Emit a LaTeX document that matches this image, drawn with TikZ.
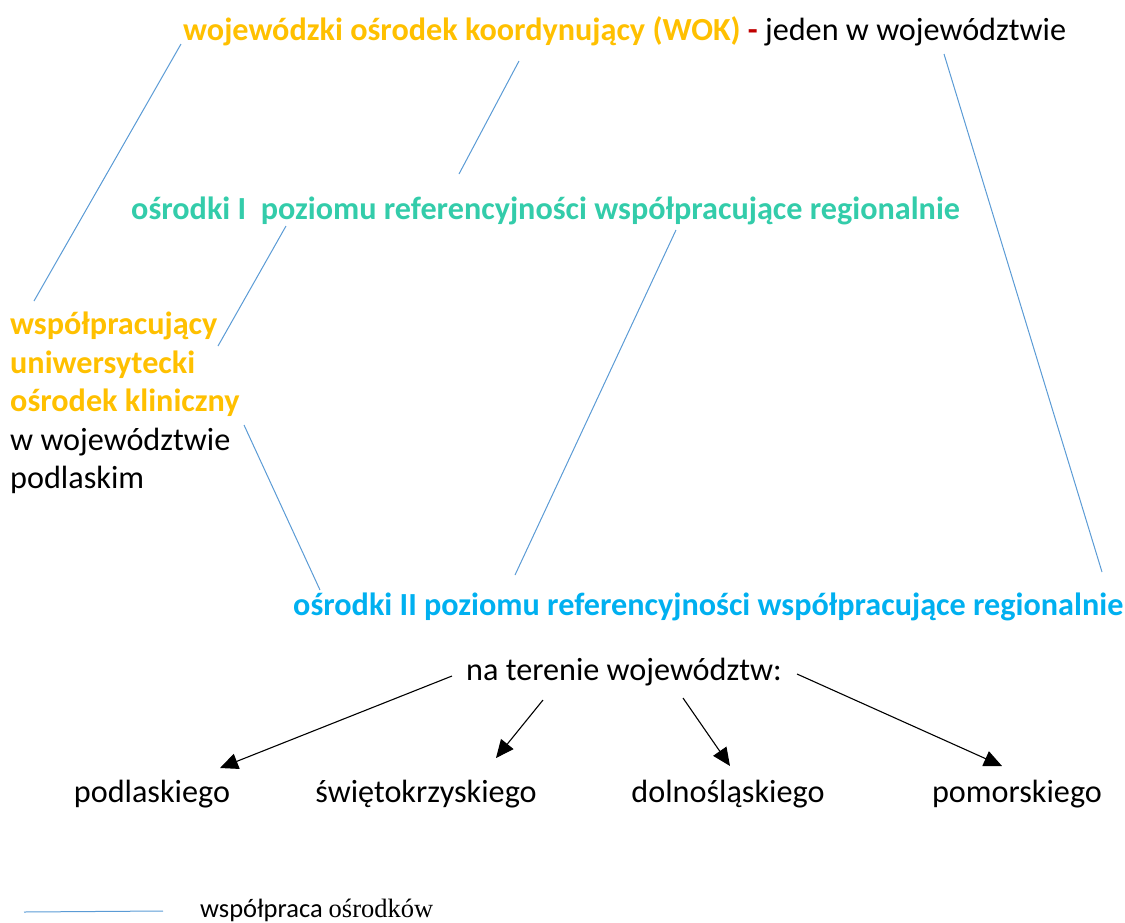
\documentclass[tikz,border=0pt]{standalone}
\usepackage{fontspec}
\setmainfont{Carlito}
\newfontfamily\timesfont{Liberation Serif}
\usetikzlibrary{arrows.meta}
\definecolor{gold}{HTML}{FFC000}
\definecolor{teal2}{HTML}{33CCAA}
\definecolor{sky}{HTML}{00B0F0}
\definecolor{dred}{HTML}{C00000}
\definecolor{lineblue}{HTML}{5B9BD5}
\tikzset{
  lbl/.style={inner sep=0pt, font=\fontsize{32.2}{38.5}\selectfont},
  coop/.style={draw=lineblue, line width=1pt},
  arr/.style={draw=black, line width=1.1pt, -{Triangle[length=18pt,width=16pt]}},
}
\begin{document}
\begin{tikzpicture}[x=1pt,y=-1pt]
\useasboundingbox (0,0) rectangle (1125,922);
% texts
\node[lbl, anchor=base west] (wok) at (183,40) {\textcolor{gold}{\bfseries wojewódzki ośrodek koordynujący (WOK)} \textcolor{dred}{\bfseries -} jeden w województwie};
\node[lbl, anchor=base west, text=teal2, font=\fontsize{32.2}{38.5}\selectfont\bfseries] (o1) at (131,219) {ośrodki I\ \ poziomu referencyjności współpracujące regionalnie};
\node[lbl, anchor=north west, align=left] (uok) at (10,312) {\textcolor{gold}{\bfseries współpracujący}\\\textcolor{gold}{\bfseries uniwersytecki}\\\textcolor{gold}{\bfseries ośrodek kliniczny}\\w województwie\\podlaskim};
\node[lbl, anchor=base west, text=sky, font=\fontsize{32.2}{38.5}\selectfont\bfseries] (o2) at (293,615) {ośrodki II poziomu referencyjności współpracujące regionalnie};
\node[lbl, anchor=base west] (teren) at (466,680) {na terenie województw:};
\node[lbl, anchor=base] (p1) at (152,802) {podlaskiego};
\node[lbl, anchor=base] (p2) at (426,802) {świętokrzyskiego};
\node[lbl, anchor=base] (p3) at (728,802) {dolnośląskiego};
\node[lbl, anchor=base] (p4) at (1017,802) {pomorskiego};
\node[inner sep=0pt, anchor=base west, font=\fontsize{26.5}{30}\selectfont] (leg) at (200,917) {współpraca {\timesfont ośrodków}};
% coordinates for connector ends
\coordinate (a1) at (181,44);  \coordinate (a2) at (34,301);
\coordinate (b1) at (519,61);  \coordinate (b2) at (459,174);
\coordinate (c1) at (286,226); \coordinate (c2) at (218,346);
\coordinate (d1) at (676,230); \coordinate (d2) at (515,575);
\coordinate (e1) at (944,54);  \coordinate (e2) at (1102,572);
\coordinate (f1) at (244,425); \coordinate (f2) at (320,590);
\coordinate (l1) at (24,912);  \coordinate (l2) at (163,911);
\draw[coop] (a1) -- (a2);
\draw[coop] (b1) -- (b2);
\draw[coop] (c1) -- (c2);
\draw[coop] (d1) -- (d2);
\draw[coop] (e1) -- (e2);
\draw[coop] (f1) -- (f2);
\draw[coop] (l1) -- (l2);
% arrows
\coordinate (s1) at (452,676); \coordinate (t1) at (220,768);
\coordinate (s2) at (543,700); \coordinate (t2) at (496,758);
\coordinate (s3) at (683,698); \coordinate (t3) at (730,766);
\coordinate (s4) at (797,674); \coordinate (t4) at (1002,766);
\draw[arr] (s1) -- (t1);
\draw[arr] (s2) -- (t2);
\draw[arr] (s3) -- (t3);
\draw[arr] (s4) -- (t4);
\end{tikzpicture}
\end{document}
